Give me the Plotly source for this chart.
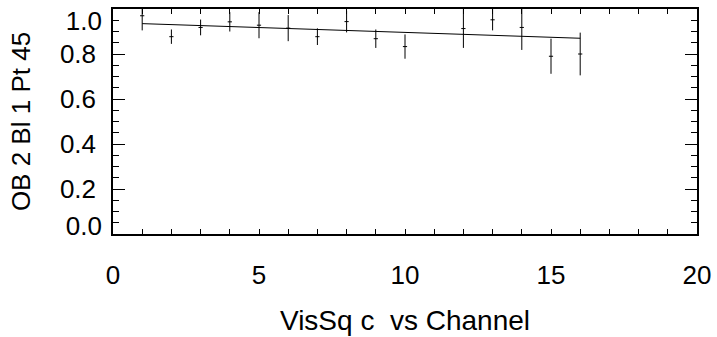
import plotly.graph_objects as go

# Data
channels = [1, 2, 3, 4, 5, 6, 7, 8, 9, 10, 12, 13, 14, 15, 16]
vis_sq = [0.970, 0.877, 0.918, 0.943, 0.928, 0.915, 0.877, 0.944, 0.868, 0.833,
          0.913, 0.952, 0.918, 0.790, 0.800]
vis_err = [0.065, 0.032, 0.035, 0.043, 0.058, 0.058, 0.037, 0.048, 0.041, 0.054,
           0.086, 0.047, 0.100, 0.078, 0.095]
model_x = [1, 16]
model_y = [0.935, 0.870]

y_tick_vals = [0.0, 0.2, 0.4, 0.6, 0.8, 1.0]
y_tick_text = ["0.0", "0.2", "0.4", "0.6", "0.8", "1.0"]
x_tick_vals = [0, 5, 10, 15, 20]
x_tick_text = ["0", "5", "10", "15", "20"]

FONT = "Liberation Sans, Arial, Helvetica, sans-serif"
FS = 26

fig = go.Figure()
fig.add_trace(go.Scatter(
    x=channels, y=vis_sq, mode="markers",
    marker=dict(symbol="line-ew", size=3, line=dict(color="black", width=1)),
    error_y=dict(type="data", array=vis_err, visible=True, color="black",
                 thickness=1, width=0),
    showlegend=False, hoverinfo="skip"))
fig.add_trace(go.Scatter(
    x=model_x, y=model_y, mode="lines",
    line=dict(color="black", width=1), showlegend=False, hoverinfo="skip"))
# helper trace so the overlay label axis is drawn
fig.add_trace(go.Scatter(x=[None], y=[None], yaxis="y2", mode="markers",
                         showlegend=False, hoverinfo="skip"))

mid_text = [t if 0 < v < 1 else "" for v, t in zip(y_tick_vals, y_tick_text)]
end_vals = [v for v in y_tick_vals if v in (0.0, 1.0)]
end_text = [t for v, t in zip(y_tick_vals, y_tick_text) if v in (0.0, 1.0)]

fig.update_layout(
    width=717, height=337,
    margin=dict(l=113, r=18, t=6, b=100),
    paper_bgcolor="white", plot_bgcolor="white",
    font=dict(family=FONT, size=FS, color="black"),
    xaxis=dict(
        range=[0, 20], tickvals=x_tick_vals, ticktext=x_tick_text,
        ticks="inside", ticklen=5, tickwidth=1, tickcolor="black",
        minor=dict(dtick=1, ticks="inside", ticklen=2.5, tickcolor="black", showgrid=False),
        showline=True, linecolor="black", linewidth=1.5, mirror="allticks",
        showgrid=False, zeroline=False, ticklabelstandoff=17,
        title=dict(text="VisSq c\u00a0\u00a0vs Channel", standoff=21,
                   font=dict(size=28)),
        tickfont=dict(size=FS)),
    yaxis=dict(
        range=[0, 1.0], tickvals=y_tick_vals, ticktext=mid_text,
        ticks="inside", ticklen=12, tickwidth=1, tickcolor="black",
        minor=dict(dtick=0.05, ticks="inside", ticklen=6, tickcolor="black", showgrid=False),
        showline=True, linecolor="black", linewidth=1.5, mirror="allticks",
        showgrid=False, zeroline=False, ticklabelstandoff=10,
        title=dict(text="OB 2 Bl 1 Pt 45", standoff=22, font=dict(size=FS)),
        tickfont=dict(size=FS)),
    yaxis2=dict(
        overlaying="y", side="left", anchor="x",
        range=[-0.042, 1.059], tickvals=end_vals, ticktext=end_text,
        ticks="", showline=False, showgrid=False, zeroline=False,
        ticklabelstandoff=10, tickfont=dict(size=FS)),
)

fig.write_html("out.html")
